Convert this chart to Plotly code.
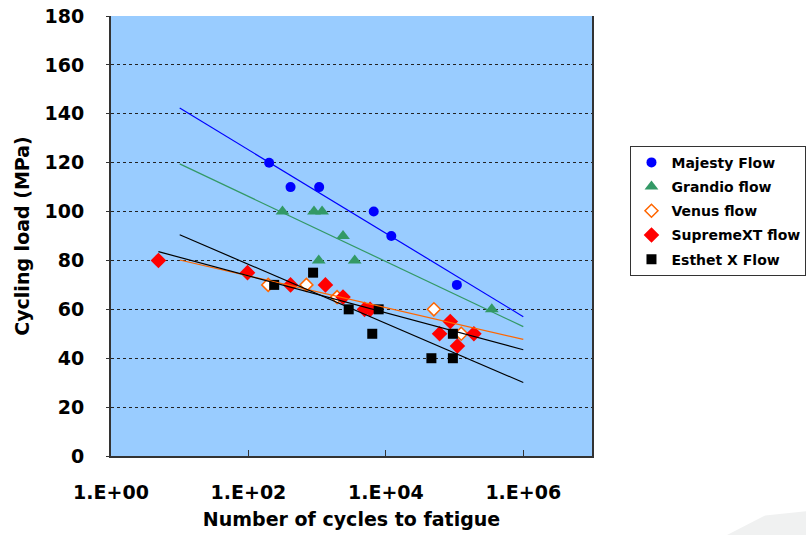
import numpy as np
import plotly.graph_objects as go

# ---- data ----
series_names = ["Majesty Flow", "Grandio flow", "Venus flow", "SupremeXT flow", "Esthet X Flow"]

majesty_x = [200, 410, 1070, 6660, 12000, 108000]
majesty_y = [120, 110, 110, 100, 90, 70]

grandio_x = [313, 900, 1180, 1055, 2380, 3520, 348000]
grandio_y = [100, 100, 100, 80, 90, 80, 60]

venus_x = [194, 698, 1950, 50000, 125000]
venus_y = [70, 70, 65, 60, 50]

supreme_x = [4.9, 97, 410, 1320, 2380, 4900, 5900, 86500, 60500, 191000, 110000]
supreme_y = [80, 75, 70, 70, 65, 60, 60, 55, 50, 50, 45]

esthet_x = [237, 873, 2880, 7860, 6340, 46000, 94500, 94500]
esthet_y = [70, 75, 60, 60, 50, 40, 50, 40]

x_tick_vals = [1, 100, 10000, 1000000]
x_tick_text = ["1.E+00", "1.E+02", "1.E+04", "1.E+06"]
y_tick_vals = [0, 20, 40, 60, 80, 100, 120, 140, 160, 180]

trend_start = 10
trend_end = 1e6

# ---- styles ----
FONT = "DejaVu Sans"
styles = [
    dict(symbol="circle", size=10, color="#0000FF", line=dict(width=0), lc="#0000FF"),
    dict(symbol="triangle-up", size=12, color="#339966", line=dict(width=0), lc="#339966"),
    dict(symbol="diamond", size=10, color="#FFFFFF", line=dict(width=1.5, color="#FF6600"), lc="#FF6600"),
    dict(symbol="diamond", size=12, color="#FF0000", line=dict(width=0), lc="#000000"),
    dict(symbol="square", size=10, color="#000000", line=dict(width=0), lc="#000000"),
]
data = [(majesty_x, majesty_y), (grandio_x, grandio_y), (venus_x, venus_y),
        (supreme_x, supreme_y), (esthet_x, esthet_y)]

fig = go.Figure()

for i, (name, (xs, ys), st) in enumerate(zip(series_names, data, styles)):
    fig.add_trace(go.Scatter(
        x=xs, y=ys, mode="markers", name=name, legendgroup=f"g{i}",
        marker=dict(symbol=st["symbol"], size=st["size"], color=st["color"], line=st["line"]),
        cliponaxis=False,
    ))

# logarithmic trendlines (least squares on log10 x)
for i, ((xs, ys), st) in enumerate(zip(data, styles)):
    lx = np.log10(np.array(xs, dtype=float))
    slope, intercept = np.polyfit(lx, np.array(ys, dtype=float), 1)
    x0 = min(trend_start, min(xs))
    tx = np.array([x0, trend_end])
    ty = slope * np.log10(tx) + intercept
    fig.add_trace(go.Scatter(
        x=tx, y=ty, mode="lines", showlegend=False, hoverinfo="skip",
        line=dict(color=st["lc"], width=1.2),
    ))

fig.update_layout(
    width=806, height=535,
    margin=dict(l=111, r=214, t=16, b=79, autoexpand=False),
    paper_bgcolor="white",
    plot_bgcolor="#99CCFF",
    font=dict(family=FONT, color="#000000"),
    showlegend=True,
    legend=dict(
        x=1.08, y=0.705, xanchor="left", yanchor="top",
        bgcolor="white", bordercolor="#333333", borderwidth=1,
        font=dict(family=FONT, size=14, weight="bold", color="#000000"),
        tracegroupgap=3, itemwidth=30,
    ),
    xaxis=dict(
        type="log", range=[0, 7], automargin=False,
        tickvals=x_tick_vals, ticktext=x_tick_text,
        ticks="inside", ticklen=6, tickcolor="#333333", tickwidth=1,
        showline=True, linecolor="#333333", linewidth=2, mirror=False,
        showgrid=False, zeroline=False,
        tickfont=dict(family=FONT, size=19, weight="bold"),
        ticklabelstandoff=18,
        title=dict(text="Number of cycles to fatigue",
                   font=dict(family=FONT, size=19, weight="bold"), standoff=11),
    ),
    yaxis=dict(
        range=[0, 180], tickvals=y_tick_vals, automargin=False,
        ticks="outside", ticklen=3, tickcolor="#333333",
        showline=True, linecolor="#333333", linewidth=2, mirror=True,
        showgrid=True, gridcolor="#222222", griddash="dot", gridwidth=1,
        zeroline=False,
        tickfont=dict(family=FONT, size=19, weight="bold"),
        ticklabelstandoff=18,
        title=dict(text="Cycling load (MPa)",
                   font=dict(family=FONT, size=19, weight="bold"), standoff=10),
    ),
    shapes=[
        dict(type="path", xref="paper", yref="paper",
             path="M 1.28,-0.18 L 1.36,-0.135 L 1.45,-0.125 L 1.45,-0.18 Z",
             fillcolor="#F0F1F1", line=dict(width=0), layer="below"),
    ],
)

fig.write_html("out.html",
               config={"displayModeBar": False},
               post_script="document.body.style.margin='0px';document.body.style.overflow='hidden';")
